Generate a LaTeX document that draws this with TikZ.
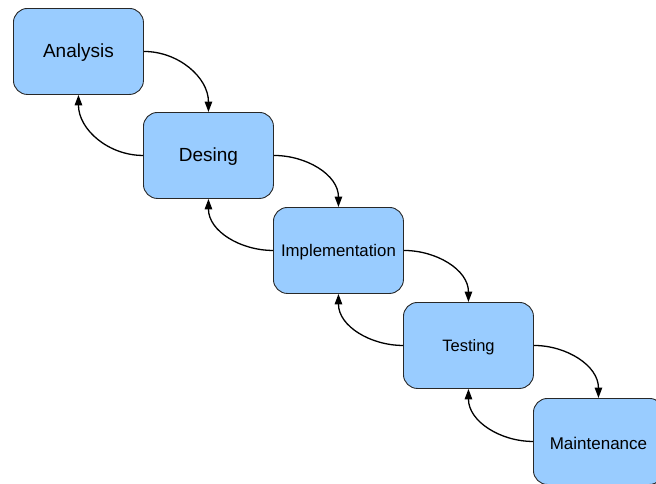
\documentclass[tikz,border=0pt]{standalone}
\usepackage{fontspec}
\setmainfont{Liberation Sans}
\usetikzlibrary{arrows.meta}
\definecolor{boxblue}{RGB}{153,204,255}
\definecolor{boxedge}{RGB}{40,40,40}
\tikzset{
  phase/.style={draw=boxedge, fill=boxblue, line width=0.9pt, rounded corners=14pt,
    minimum width=130pt, minimum height=86pt, inner sep=0pt, anchor=north west},
  lbl/.style={yshift=-1.5pt},
  flow/.style={line width=1.3pt, -{Triangle[length=10.5pt,width=7.5pt]}},
}
\begin{document}
\begin{tikzpicture}[x=1pt,y=-1pt]
\useasboundingbox (0,0) rectangle (656,483);
\node[phase] (a) at (13,8) {};
\node[phase] (d) at (143,112) {};
\node[phase] (i) at (273,207) {};
\node[phase] (t) at (403,302) {};
\node[phase] (m) at (533,398) {};
\node[lbl, font=\fontsize{19}{22}\selectfont] (ta) at (a.center) {Analysis};
\node[lbl, font=\fontsize{19}{22}\selectfont] (td) at (d.center) {Desing};
\node[lbl, font=\fontsize{16.8}{20}\selectfont] (ti) at (i.center) {Implementation};
\node[lbl, font=\fontsize{16.5}{20}\selectfont] (tt) at (t.center) {Testing};
\node[lbl, font=\fontsize{17}{20}\selectfont] (tm) at (m.center) {Maintenance};
\draw[flow] (a.east) to[out=0,in=90] (d.north);
\draw[flow] (d.east) to[out=0,in=90] (i.north);
\draw[flow] (i.east) to[out=0,in=90] (t.north);
\draw[flow] (t.east) to[out=0,in=90] (m.north);
\draw[flow] (d.west) to[out=180,in=-90] (a.south);
\draw[flow] (i.west) to[out=180,in=-90] (d.south);
\draw[flow] (t.west) to[out=180,in=-90] (i.south);
\draw[flow] (m.west) to[out=180,in=-90] (t.south);
\end{tikzpicture}
\end{document}
